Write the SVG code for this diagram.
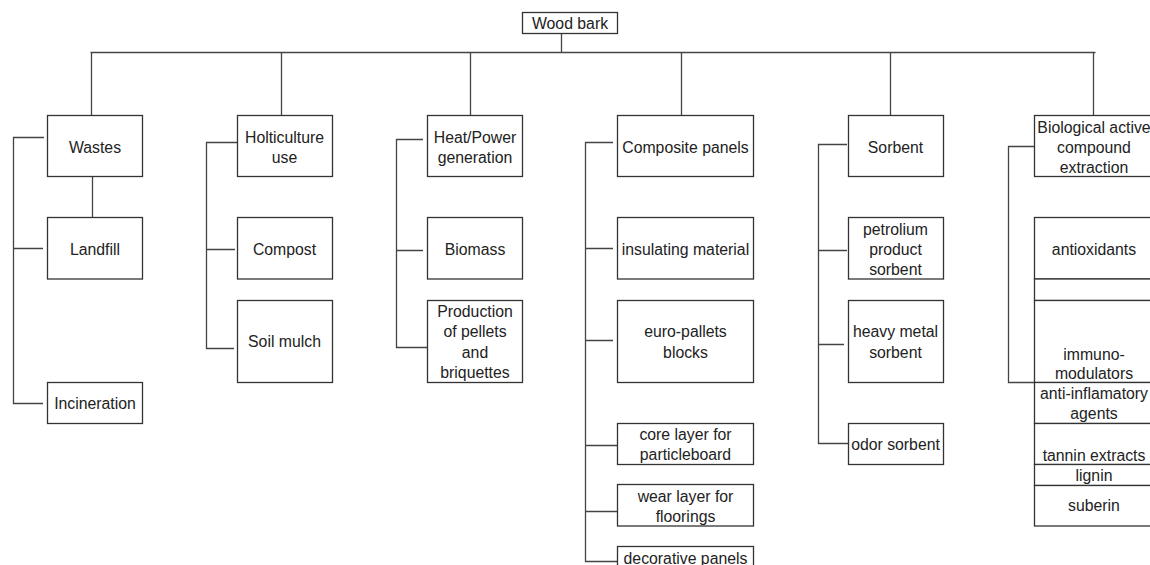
<svg xmlns="http://www.w3.org/2000/svg" width="1150" height="565" viewBox="0 0 1150 565">
<style>
.box{fill:#fff;stroke:#333;stroke-width:1.3}
.ln{fill:none;stroke:#444;stroke-width:1.3}
text{font-family:"Liberation Sans",Arial,sans-serif;font-size:15.8px;fill:#222;text-anchor:middle}
</style>
<rect width="1150" height="565" fill="#fff"/>
<g id="connectors">
<path class="ln" d="M561.5 33 V53 M90.5 52.5 H1095.5 M91.5 52.5 V115 M281.5 52.5 V115 M470.5 52.5 V115 M681.5 52.5 V115 M890.5 52.5 V115 M1093.5 52.5 V115"/>
<path class="ln" d="M92.5 176 V217.5"/>
<path class="ln" d="M44 137.5 H13.5 V403.5 H43 M13.5 248.5 H43"/>
<path class="ln" d="M237 142.5 H206.5 V348.5 H234 M206.5 249.5 H235"/>
<path class="ln" d="M423 139.5 H396.5 V347.5 H427 M396.5 250.5 H423"/>
<path class="ln" d="M613 142.5 H585.5 V561.5 H617 M585.5 248.5 H613 M585.5 340.5 H613 M585.5 445.5 H617 M585.5 511.5 H617"/>
<path class="ln" d="M847 144.5 H818.5 V443.5 H848 M818.5 250.5 H847 M818.5 344.5 H844"/>
<path class="ln" d="M1034 146.5 H1008.5 V382.5 H1034"/>
</g>
<g id="n-root"><rect class="box" x="522.5" y="12.5" width="95" height="21"/><text x="570" y="28.5">Wood bark</text></g>
<g id="n-wastes"><rect class="box" x="47.5" y="115.5" width="95" height="61"/><text x="95" y="152.5">Wastes</text></g>
<g id="n-landfill"><rect class="box" x="47.5" y="217.5" width="95" height="61.5"/><text x="95" y="254.5">Landfill</text></g>
<g id="n-incineration"><rect class="box" x="47.5" y="382.5" width="95" height="41"/><text x="95" y="408.5">Incineration</text></g>
<g id="n-holti"><rect class="box" x="237.5" y="115.5" width="95" height="61"/><text x="284.5" y="142.5">Holticulture</text><text x="284.5" y="162.5">use</text></g>
<g id="n-compost"><rect class="box" x="237.5" y="217.5" width="95" height="61.5"/><text x="284.5" y="254.5">Compost</text></g>
<g id="n-soil"><rect class="box" x="237.5" y="300.5" width="95" height="82"/><text x="284.5" y="346.5">Soil mulch</text></g>
<g id="n-heat"><rect class="box" x="427.5" y="115.5" width="95" height="61"/><text x="475" y="142.5">Heat/Power</text><text x="475" y="162.5">generation</text></g>
<g id="n-biomass"><rect class="box" x="427.5" y="217.5" width="95" height="61.5"/><text x="475" y="254.5">Biomass</text></g>
<g id="n-pellets"><rect class="box" x="427.5" y="300.5" width="95" height="82"/><text x="475" y="316.5">Production</text><text x="475" y="337">of pellets</text><text x="475" y="357.5">and</text><text x="475" y="377.5">briquettes</text></g>
<g id="n-composite"><rect class="box" x="617.5" y="115.5" width="136" height="61"/><text x="685.5" y="152.5">Composite panels</text></g>
<g id="n-insulating"><rect class="box" x="617.5" y="217.5" width="136" height="61.5"/><text x="685.5" y="254.5">insulating material</text></g>
<g id="n-euro"><rect class="box" x="617.5" y="300.5" width="136" height="82"/><text x="685.5" y="337">euro-pallets</text><text x="685.5" y="357.5">blocks</text></g>
<g id="n-core"><rect class="box" x="617.5" y="423.5" width="136" height="41"/><text x="685.5" y="439.5">core layer for</text><text x="685.5" y="460">particleboard</text></g>
<g id="n-wear"><rect class="box" x="617.5" y="484.5" width="136" height="41.5"/><text x="685.5" y="501.5">wear layer for</text><text x="685.5" y="521.5">floorings</text></g>
<g id="n-decorative"><rect class="box" x="617.5" y="546.5" width="136" height="30"/><text x="685.5" y="563.5">decorative panels</text></g>
<g id="n-sorbent"><rect class="box" x="848.5" y="115.5" width="95" height="61"/><text x="895.5" y="152.5">Sorbent</text></g>
<g id="n-petrol"><rect class="box" x="848.5" y="217.5" width="95" height="61.5"/><text x="895.5" y="234.5">petrolium</text><text x="895.5" y="254.5">product</text><text x="895.5" y="274.5">sorbent</text></g>
<g id="n-heavy"><rect class="box" x="848.5" y="300.5" width="95" height="82"/><text x="895.5" y="337">heavy metal</text><text x="895.5" y="357.5">sorbent</text></g>
<g id="n-odor"><rect class="box" x="848.5" y="423.5" width="95" height="41"/><text x="895.5" y="449.5">odor sorbent</text></g>
<g id="n-bio"><rect class="box" x="1034.5" y="115.5" width="120" height="61"/><text x="1094" y="132.5">Biological active</text><text x="1094" y="152.5">compound</text><text x="1094" y="172.5">extraction</text></g>
<g id="n-antiox"><rect class="box" x="1034.5" y="217.5" width="120" height="61.5"/><text x="1094" y="254.5">antioxidants</text></g>
<g id="n-empty"><rect class="box" x="1034.5" y="279" width="120" height="21.5"/></g>
<g id="n-immuno"><rect class="box" x="1034.5" y="300.5" width="120" height="82"/><text x="1094" y="360">immuno-</text><text x="1094" y="378.5">modulators</text></g>
<g id="n-antiinf"><rect class="box" x="1034.5" y="382.5" width="120" height="41"/><text x="1094" y="398.5">anti-inflamatory</text><text x="1094" y="418.5">agents</text></g>
<g id="n-tannin"><rect class="box" x="1034.5" y="423.5" width="120" height="41"/><text x="1094" y="460.5">tannin extracts</text></g>
<g id="n-lignin"><rect class="box" x="1034.5" y="464.5" width="120" height="21"/><text x="1094" y="481">lignin</text></g>
<g id="n-suberin"><rect class="box" x="1034.5" y="485.5" width="120" height="40.5"/><text x="1094" y="511">suberin</text></g>
</svg>
